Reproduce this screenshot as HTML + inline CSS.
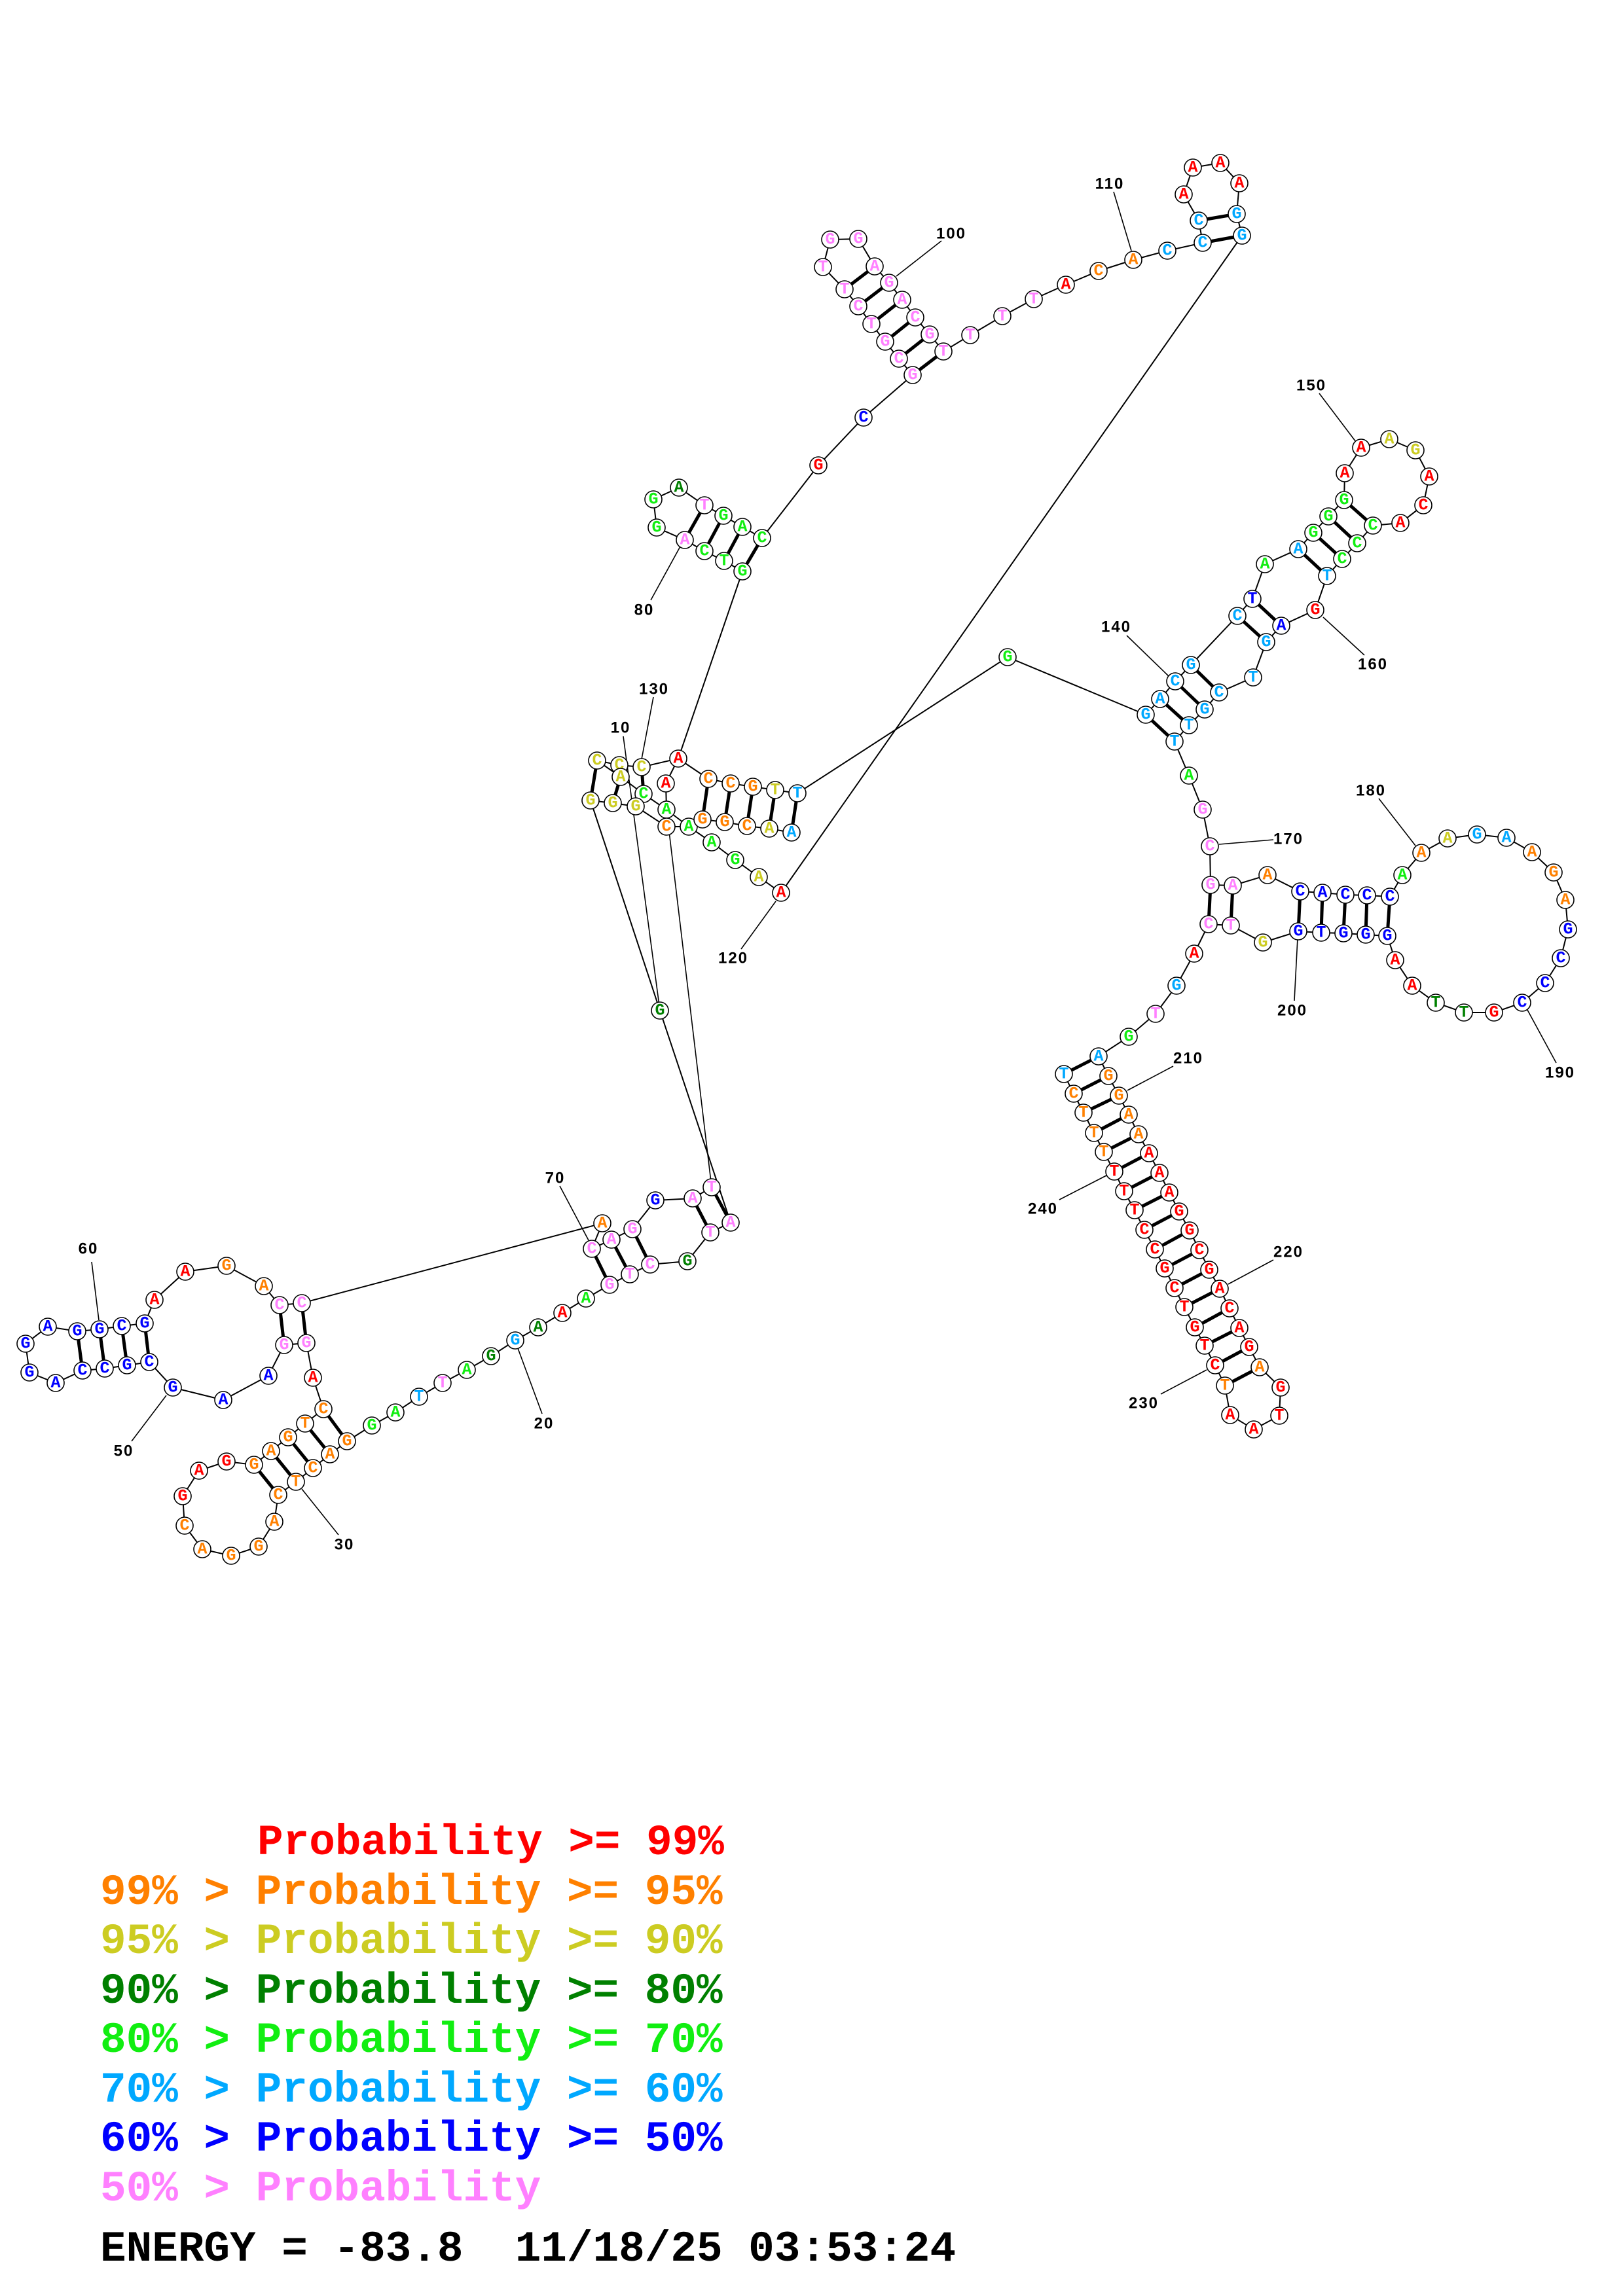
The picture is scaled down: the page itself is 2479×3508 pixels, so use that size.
<!DOCTYPE html>
<html><head><meta charset="utf-8"><style>
html,body{margin:0;padding:0;background:#fff;}
svg{display:block;}
.n circle{fill:#fff;stroke:#000;stroke-width:1.6;}
.n text{font-family:"Liberation Mono",monospace;font-weight:bold;font-size:25px;text-anchor:middle;dominant-baseline:central;}
.lb{font-family:"Liberation Sans",sans-serif;font-weight:bold;font-size:24px;letter-spacing:2px;text-anchor:middle;dominant-baseline:central;fill:#000;}
.lg{font-family:"Liberation Mono",monospace;font-weight:bold;font-size:66px;white-space:pre;}
.r{fill:#ff0000}.o{fill:#ff8000}.y{fill:#cccc22}.d{fill:#008000}.g{fill:#11ee11}.c{fill:#00a8ff}.b{fill:#0000ff}.p{fill:#ff80ff}
.bb{fill:none;stroke:#000;stroke-width:2;}
.pr{stroke:#000;stroke-width:5;}
.ll{stroke:#000;stroke-width:1.6;}
</style></head><body>
<svg width="2479" height="3508" viewBox="0 0 2479 3508" xmlns="http://www.w3.org/2000/svg">
<polyline class="bb" points="1116,1868 1085,1883 1050,1927 993,1932 962,1947 931,1963 895,1984 859,2006 822,2028 787,2048 750,2072 713,2093 676,2113 640,2134 604,2158 568,2178 530,2202 504,2222 478,2243 452,2264 425,2284 419,2325 395,2363 353,2377 309,2367 282,2331 279,2286 304,2247 346,2233 388,2238 414,2217 440,2196 466,2175 494,2153 478,2105 468,2052 434,2055 410,2102 341,2139 264,2120 228,2081 194,2086 160,2091 126,2094 85,2113 45,2097 39,2053 73,2027 118,2034 152,2031 186,2026 221,2022 236,1986 283,1943 346,1934 403,1965 427,1994 461,1991 920,1869 904,1908 934,1894 966,1878 1001,1834 1058,1831 1087,1814"/>
<polyline class="bb" points="1116,1868 1008,1544 902,1223"/>
<line class="ll" x1="952" y1="1125" x2="1008" y2="1544"/>
<line class="ll" x1="1018" y1="1237" x2="1087" y2="1814"/>
<polyline class="bb" points="902,1223 936,1227 971,1232 1018,1263 1052,1263 1087,1287 1123,1314 1159,1340 1193,1364 1897,360"/>
<polyline class="bb" points="1052,1263 1073,1252 1107,1256 1141,1262 1175,1266 1209,1272"/>
<polyline class="bb" points="912,1162 946,1169 980,1172 1036,1159 1082,1190 1116,1197 1150,1202 1184,1207 1218,1212 1539,1004 1750,1092"/>
<polyline class="bb" points="912,1162 948,1187 983,1213 1018,1237 1052,1263"/>
<polyline class="bb" points="1036,1159 1017,1197 1018,1237"/>
<polyline class="bb" points="1036,1159 1134,873 1106,857 1076,842 1046,825 1003,806 998,763 1037,745 1076,772 1105,788 1134,805 1164,822 1250,711 1319,638 1394,573 1373,548 1352,522 1331,495 1311,468 1290,442 1257,408 1268,366 1311,365 1336,407 1358,432 1378,458 1398,485 1420,511 1441,537 1482,512 1531,483 1579,457 1628,435 1678,414 1731,397 1783,383 1837,371 1831,337 1808,297 1822,256 1864,249 1893,280 1889,327 1897,360"/>
<polyline class="bb" points="1750,1092 1772,1068 1795,1041 1819,1016 1890,941 1913,915 1932,862 1983,839 2006,814 2029,789 2053,764 2054,723 2079,684 2122,671 2162,688 2183,728 2174,772 2139,799 2097,803 2073,830 2050,854 2027,880 2009,932 1957,956 1934,981 1914,1035 1862,1058 1840,1084 1816,1108 1794,1133 1816,1185 1837,1237 1848,1293 1849,1352 1883,1353 1936,1337 1986,1362 2020,1364 2055,1367 2088,1368 2123,1370 2142,1337 2171,1303 2211,1281 2256,1275 2301,1280 2340,1302 2373,1333 2391,1375 2395,1420 2384,1464 2360,1502 2325,1532 2282,1547 2236,1547 2193,1532 2157,1506 2131,1467 2119,1430 2086,1428 2052,1426 2018,1425 1983,1423 1929,1440 1880,1414 1846,1412 1824,1457 1797,1506 1765,1549 1724,1584 1678,1614 1693,1644 1709,1674 1724,1703 1739,1733 1755,1762 1771,1792 1786,1822 1801,1851 1817,1880 1832,1910 1847,1940 1863,1969 1878,1999 1893,2029 1908,2058 1924,2089 1956,2120 1954,2163 1915,2184 1879,2162 1871,2117 1856,2086 1840,2056 1825,2028 1809,1997 1794,1968 1779,1938 1764,1909 1748,1879 1733,1849 1717,1820 1702,1790 1686,1760 1671,1731 1655,1700 1640,1671 1625,1641"/>
<g class="pr">
<line x1="118" y1="2034" x2="126" y2="2094"/><line x1="152" y1="2031" x2="160" y2="2091"/><line x1="186" y1="2026" x2="194" y2="2086"/><line x1="221" y1="2022" x2="228" y2="2081"/>
<line x1="427" y1="1994" x2="434" y2="2055"/><line x1="461" y1="1991" x2="468" y2="2052"/>
<line x1="494" y1="2153" x2="530" y2="2202"/><line x1="466" y1="2175" x2="504" y2="2222"/><line x1="440" y1="2196" x2="478" y2="2243"/><line x1="414" y1="2217" x2="452" y2="2264"/><line x1="388" y1="2238" x2="425" y2="2284"/>
<line x1="904" y1="1908" x2="931" y2="1963"/><line x1="934" y1="1894" x2="962" y2="1947"/><line x1="966" y1="1878" x2="993" y2="1932"/><line x1="1058" y1="1831" x2="1085" y2="1883"/><line x1="1087" y1="1814" x2="1116" y2="1868"/>
<line x1="912" y1="1162" x2="902" y2="1223"/><line x1="948" y1="1187" x2="936" y2="1227"/><line x1="980" y1="1172" x2="983" y2="1213"/>
<line x1="1082" y1="1190" x2="1073" y2="1252"/><line x1="1116" y1="1197" x2="1107" y2="1256"/><line x1="1150" y1="1202" x2="1141" y2="1262"/><line x1="1184" y1="1207" x2="1175" y2="1266"/><line x1="1218" y1="1212" x2="1209" y2="1272"/>
<line x1="1076" y1="772" x2="1046" y2="825"/><line x1="1105" y1="788" x2="1076" y2="842"/><line x1="1134" y1="805" x2="1106" y2="857"/><line x1="1164" y1="822" x2="1134" y2="873"/>
<line x1="1290" y1="442" x2="1336" y2="407"/><line x1="1311" y1="468" x2="1358" y2="432"/><line x1="1331" y1="495" x2="1378" y2="458"/><line x1="1352" y1="522" x2="1398" y2="485"/><line x1="1373" y1="548" x2="1420" y2="511"/><line x1="1394" y1="573" x2="1441" y2="537"/>
<line x1="1831" y1="337" x2="1889" y2="327"/><line x1="1837" y1="371" x2="1897" y2="360"/>
<line x1="1750" y1="1092" x2="1794" y2="1133"/><line x1="1772" y1="1068" x2="1816" y2="1108"/><line x1="1795" y1="1041" x2="1840" y2="1084"/><line x1="1819" y1="1016" x2="1862" y2="1058"/>
<line x1="1890" y1="941" x2="1934" y2="981"/><line x1="1913" y1="915" x2="1957" y2="956"/>
<line x1="1983" y1="839" x2="2027" y2="880"/><line x1="2006" y1="814" x2="2050" y2="854"/><line x1="2029" y1="789" x2="2073" y2="830"/><line x1="2053" y1="764" x2="2097" y2="803"/>
<line x1="1849" y1="1352" x2="1846" y2="1412"/><line x1="1883" y1="1353" x2="1880" y2="1414"/>
<line x1="1986" y1="1362" x2="1983" y2="1423"/><line x1="2020" y1="1364" x2="2018" y2="1425"/><line x1="2055" y1="1367" x2="2052" y2="1426"/><line x1="2088" y1="1368" x2="2086" y2="1428"/><line x1="2123" y1="1370" x2="2119" y2="1430"/>
<line x1="1678" y1="1614" x2="1625" y2="1641"/><line x1="1693" y1="1644" x2="1640" y2="1671"/><line x1="1709" y1="1674" x2="1655" y2="1700"/><line x1="1724" y1="1703" x2="1671" y2="1731"/><line x1="1739" y1="1733" x2="1686" y2="1760"/><line x1="1755" y1="1762" x2="1702" y2="1790"/><line x1="1771" y1="1792" x2="1717" y2="1820"/><line x1="1786" y1="1822" x2="1733" y2="1849"/><line x1="1801" y1="1851" x2="1748" y2="1879"/><line x1="1817" y1="1880" x2="1764" y2="1909"/><line x1="1832" y1="1910" x2="1779" y2="1938"/><line x1="1847" y1="1940" x2="1794" y2="1968"/><line x1="1863" y1="1969" x2="1809" y2="1997"/><line x1="1878" y1="1999" x2="1825" y2="2028"/><line x1="1893" y1="2029" x2="1840" y2="2056"/><line x1="1908" y1="2058" x2="1856" y2="2086"/><line x1="1924" y1="2089" x2="1871" y2="2117"/>
</g>
<g class="ll">
<line x1="140" y1="1928" x2="151" y2="2017"/><line x1="201" y1="2202" x2="254" y2="2132"/><line x1="517" y1="2345" x2="461" y2="2275"/><line x1="828" y1="2160" x2="791" y2="2060"/><line x1="855" y1="1812" x2="899" y2="1895"/><line x1="994" y1="917" x2="1039" y2="835"/><line x1="998" y1="1065" x2="980" y2="1160"/><line x1="1132" y1="1450" x2="1185" y2="1377"/><line x1="1438" y1="368" x2="1369" y2="422"/><line x1="1701" y1="293" x2="1728" y2="383"/><line x1="2015" y1="601" x2="2071" y2="675"/><line x1="1721" y1="971" x2="1785" y2="1033"/><line x1="2084" y1="1001" x2="2021" y2="943"/><line x1="1862" y1="1290" x2="1945" y2="1283"/><line x1="2106" y1="1220" x2="2162" y2="1292"/><line x1="2377" y1="1624" x2="2333" y2="1543"/><line x1="1977" y1="1529" x2="1982" y2="1433"/><line x1="1792" y1="1629" x2="1722" y2="1666"/><line x1="1618" y1="1833" x2="1690" y2="1796"/><line x1="1945" y1="1925" x2="1876" y2="1962"/><line x1="1773" y1="2130" x2="1843" y2="2093"/>
</g>
<g>
<text class="lb" x="135" y="1908">60</text><text class="lb" x="189" y="2217">50</text><text class="lb" x="526" y="2360">30</text><text class="lb" x="831" y="2175">20</text><text class="lb" x="848" y="1800">70</text><text class="lb" x="984" y="932">80</text><text class="lb" x="999" y="1053">130</text><text class="lb" x="948" y="1112">10</text><text class="lb" x="1120" y="1464">120</text><text class="lb" x="1453" y="357">100</text><text class="lb" x="1695" y="281">110</text><text class="lb" x="2003" y="589">150</text><text class="lb" x="1705" y="958">140</text><text class="lb" x="2097" y="1015">160</text><text class="lb" x="1968" y="1282">170</text><text class="lb" x="2094" y="1208">180</text><text class="lb" x="2383" y="1639">190</text><text class="lb" x="1974" y="1544">200</text><text class="lb" x="1815" y="1617">210</text><text class="lb" x="1593" y="1847">240</text><text class="lb" x="1968" y="1913">220</text><text class="lb" x="1747" y="2144">230</text>
</g>
<g class="n">
<g transform="translate(39,2053)"><circle r="13"/><text class="b">G</text></g>
<g transform="translate(45,2097)"><circle r="13"/><text class="b">G</text></g>
<g transform="translate(85,2113)"><circle r="13"/><text class="b">A</text></g>
<g transform="translate(73,2027)"><circle r="13"/><text class="b">A</text></g>
<g transform="translate(118,2034)"><circle r="13"/><text class="b">G</text></g>
<g transform="translate(152,2031)"><circle r="13"/><text class="b">G</text></g>
<g transform="translate(186,2026)"><circle r="13"/><text class="b">C</text></g>
<g transform="translate(221,2022)"><circle r="13"/><text class="b">G</text></g>
<g transform="translate(126,2094)"><circle r="13"/><text class="b">C</text></g>
<g transform="translate(160,2091)"><circle r="13"/><text class="b">C</text></g>
<g transform="translate(194,2086)"><circle r="13"/><text class="b">G</text></g>
<g transform="translate(228,2081)"><circle r="13"/><text class="b">C</text></g>
<g transform="translate(264,2120)"><circle r="13"/><text class="b">G</text></g>
<g transform="translate(341,2139)"><circle r="13"/><text class="b">A</text></g>
<g transform="translate(410,2102)"><circle r="13"/><text class="b">A</text></g>
<g transform="translate(434,2055)"><circle r="13"/><text class="p">G</text></g>
<g transform="translate(468,2052)"><circle r="13"/><text class="p">G</text></g>
<g transform="translate(427,1994)"><circle r="13"/><text class="p">C</text></g>
<g transform="translate(461,1991)"><circle r="13"/><text class="p">C</text></g>
<g transform="translate(403,1965)"><circle r="13"/><text class="o">A</text></g>
<g transform="translate(346,1934)"><circle r="13"/><text class="o">G</text></g>
<g transform="translate(283,1943)"><circle r="13"/><text class="r">A</text></g>
<g transform="translate(236,1986)"><circle r="13"/><text class="r">A</text></g>
<g transform="translate(478,2105)"><circle r="13"/><text class="r">A</text></g>
<g transform="translate(494,2153)"><circle r="13"/><text class="o">C</text></g>
<g transform="translate(530,2202)"><circle r="13"/><text class="o">G</text></g>
<g transform="translate(504,2222)"><circle r="13"/><text class="o">A</text></g>
<g transform="translate(478,2243)"><circle r="13"/><text class="o">C</text></g>
<g transform="translate(452,2264)"><circle r="13"/><text class="o">T</text></g>
<g transform="translate(466,2175)"><circle r="13"/><text class="o">T</text></g>
<g transform="translate(440,2196)"><circle r="13"/><text class="o">G</text></g>
<g transform="translate(414,2217)"><circle r="13"/><text class="o">A</text></g>
<g transform="translate(388,2238)"><circle r="13"/><text class="o">G</text></g>
<g transform="translate(425,2284)"><circle r="13"/><text class="o">C</text></g>
<g transform="translate(419,2325)"><circle r="13"/><text class="o">A</text></g>
<g transform="translate(395,2363)"><circle r="13"/><text class="o">G</text></g>
<g transform="translate(353,2377)"><circle r="13"/><text class="o">G</text></g>
<g transform="translate(309,2367)"><circle r="13"/><text class="o">A</text></g>
<g transform="translate(282,2331)"><circle r="13"/><text class="o">C</text></g>
<g transform="translate(279,2286)"><circle r="13"/><text class="r">G</text></g>
<g transform="translate(304,2247)"><circle r="13"/><text class="r">A</text></g>
<g transform="translate(346,2233)"><circle r="13"/><text class="r">G</text></g>
<g transform="translate(568,2178)"><circle r="13"/><text class="g">G</text></g>
<g transform="translate(604,2158)"><circle r="13"/><text class="g">A</text></g>
<g transform="translate(640,2134)"><circle r="13"/><text class="c">T</text></g>
<g transform="translate(676,2113)"><circle r="13"/><text class="p">T</text></g>
<g transform="translate(713,2093)"><circle r="13"/><text class="g">A</text></g>
<g transform="translate(750,2072)"><circle r="13"/><text class="d">G</text></g>
<g transform="translate(787,2048)"><circle r="13"/><text class="c">G</text></g>
<g transform="translate(822,2028)"><circle r="13"/><text class="d">A</text></g>
<g transform="translate(859,2006)"><circle r="13"/><text class="r">A</text></g>
<g transform="translate(895,1984)"><circle r="13"/><text class="g">A</text></g>
<g transform="translate(931,1963)"><circle r="13"/><text class="p">G</text></g>
<g transform="translate(962,1947)"><circle r="13"/><text class="p">T</text></g>
<g transform="translate(993,1932)"><circle r="13"/><text class="p">C</text></g>
<g transform="translate(1050,1927)"><circle r="13"/><text class="d">G</text></g>
<g transform="translate(1085,1883)"><circle r="13"/><text class="p">T</text></g>
<g transform="translate(1116,1868)"><circle r="13"/><text class="p">A</text></g>
<g transform="translate(1087,1814)"><circle r="13"/><text class="p">T</text></g>
<g transform="translate(1058,1831)"><circle r="13"/><text class="p">A</text></g>
<g transform="translate(1001,1834)"><circle r="13"/><text class="b">G</text></g>
<g transform="translate(966,1878)"><circle r="13"/><text class="p">G</text></g>
<g transform="translate(934,1894)"><circle r="13"/><text class="p">A</text></g>
<g transform="translate(904,1908)"><circle r="13"/><text class="p">C</text></g>
<g transform="translate(920,1869)"><circle r="13"/><text class="o">A</text></g>
<g transform="translate(1008,1544)"><circle r="13"/><text class="d">G</text></g>
<g transform="translate(1123,1314)"><circle r="13"/><text class="g">G</text></g>
<g transform="translate(1159,1340)"><circle r="13"/><text class="y">A</text></g>
<g transform="translate(1193,1364)"><circle r="13"/><text class="r">A</text></g>
<g transform="translate(912,1162)"><circle r="13"/><text class="y">C</text></g>
<g transform="translate(946,1169)"><circle r="13"/><text class="y">C</text></g>
<g transform="translate(980,1172)"><circle r="13"/><text class="y">C</text></g>
<g transform="translate(1036,1159)"><circle r="13"/><text class="r">A</text></g>
<g transform="translate(948,1187)"><circle r="13"/><text class="y">A</text></g>
<g transform="translate(902,1223)"><circle r="13"/><text class="y">G</text></g>
<g transform="translate(936,1227)"><circle r="13"/><text class="y">G</text></g>
<g transform="translate(983,1213)"><circle r="13"/><text class="g">C</text></g>
<g transform="translate(971,1232)"><circle r="13"/><text class="y">G</text></g>
<g transform="translate(1017,1197)"><circle r="13"/><text class="r">A</text></g>
<g transform="translate(1018,1237)"><circle r="13"/><text class="g">A</text></g>
<g transform="translate(1018,1263)"><circle r="13"/><text class="o">C</text></g>
<g transform="translate(1052,1263)"><circle r="13"/><text class="g">A</text></g>
<g transform="translate(1087,1287)"><circle r="13"/><text class="g">A</text></g>
<g transform="translate(1082,1190)"><circle r="13"/><text class="o">C</text></g>
<g transform="translate(1116,1197)"><circle r="13"/><text class="o">C</text></g>
<g transform="translate(1150,1202)"><circle r="13"/><text class="o">G</text></g>
<g transform="translate(1184,1207)"><circle r="13"/><text class="y">T</text></g>
<g transform="translate(1218,1212)"><circle r="13"/><text class="c">T</text></g>
<g transform="translate(1073,1252)"><circle r="13"/><text class="o">G</text></g>
<g transform="translate(1107,1256)"><circle r="13"/><text class="o">G</text></g>
<g transform="translate(1141,1262)"><circle r="13"/><text class="o">C</text></g>
<g transform="translate(1175,1266)"><circle r="13"/><text class="y">A</text></g>
<g transform="translate(1209,1272)"><circle r="13"/><text class="c">A</text></g>
<g transform="translate(1037,745)"><circle r="13"/><text class="d">A</text></g>
<g transform="translate(998,763)"><circle r="13"/><text class="g">G</text></g>
<g transform="translate(1003,806)"><circle r="13"/><text class="g">G</text></g>
<g transform="translate(1076,772)"><circle r="13"/><text class="p">T</text></g>
<g transform="translate(1105,788)"><circle r="13"/><text class="g">G</text></g>
<g transform="translate(1134,805)"><circle r="13"/><text class="g">A</text></g>
<g transform="translate(1164,822)"><circle r="13"/><text class="g">C</text></g>
<g transform="translate(1046,825)"><circle r="13"/><text class="p">A</text></g>
<g transform="translate(1076,842)"><circle r="13"/><text class="g">C</text></g>
<g transform="translate(1106,857)"><circle r="13"/><text class="g">T</text></g>
<g transform="translate(1134,873)"><circle r="13"/><text class="g">G</text></g>
<g transform="translate(1250,711)"><circle r="13"/><text class="r">G</text></g>
<g transform="translate(1319,638)"><circle r="13"/><text class="b">C</text></g>
<g transform="translate(1539,1004)"><circle r="13"/><text class="g">G</text></g>
<g transform="translate(1268,366)"><circle r="13"/><text class="p">G</text></g>
<g transform="translate(1311,365)"><circle r="13"/><text class="p">G</text></g>
<g transform="translate(1257,408)"><circle r="13"/><text class="p">T</text></g>
<g transform="translate(1336,407)"><circle r="13"/><text class="p">A</text></g>
<g transform="translate(1290,442)"><circle r="13"/><text class="p">T</text></g>
<g transform="translate(1358,432)"><circle r="13"/><text class="p">G</text></g>
<g transform="translate(1311,468)"><circle r="13"/><text class="p">C</text></g>
<g transform="translate(1378,458)"><circle r="13"/><text class="p">A</text></g>
<g transform="translate(1331,495)"><circle r="13"/><text class="p">T</text></g>
<g transform="translate(1398,485)"><circle r="13"/><text class="p">C</text></g>
<g transform="translate(1352,522)"><circle r="13"/><text class="p">G</text></g>
<g transform="translate(1420,511)"><circle r="13"/><text class="p">G</text></g>
<g transform="translate(1373,548)"><circle r="13"/><text class="p">C</text></g>
<g transform="translate(1441,537)"><circle r="13"/><text class="p">T</text></g>
<g transform="translate(1394,573)"><circle r="13"/><text class="p">G</text></g>
<g transform="translate(1482,512)"><circle r="13"/><text class="p">T</text></g>
<g transform="translate(1531,483)"><circle r="13"/><text class="p">T</text></g>
<g transform="translate(1579,457)"><circle r="13"/><text class="p">T</text></g>
<g transform="translate(1628,435)"><circle r="13"/><text class="r">A</text></g>
<g transform="translate(1678,414)"><circle r="13"/><text class="o">C</text></g>
<g transform="translate(1731,397)"><circle r="13"/><text class="o">A</text></g>
<g transform="translate(1783,383)"><circle r="13"/><text class="c">C</text></g>
<g transform="translate(1837,371)"><circle r="13"/><text class="c">C</text></g>
<g transform="translate(1897,360)"><circle r="13"/><text class="c">G</text></g>
<g transform="translate(1831,337)"><circle r="13"/><text class="c">C</text></g>
<g transform="translate(1889,327)"><circle r="13"/><text class="c">G</text></g>
<g transform="translate(1808,297)"><circle r="13"/><text class="r">A</text></g>
<g transform="translate(1822,256)"><circle r="13"/><text class="r">A</text></g>
<g transform="translate(1864,249)"><circle r="13"/><text class="r">A</text></g>
<g transform="translate(1893,280)"><circle r="13"/><text class="r">A</text></g>
<g transform="translate(1750,1092)"><circle r="13"/><text class="c">G</text></g>
<g transform="translate(1772,1068)"><circle r="13"/><text class="c">A</text></g>
<g transform="translate(1795,1041)"><circle r="13"/><text class="c">C</text></g>
<g transform="translate(1819,1016)"><circle r="13"/><text class="c">G</text></g>
<g transform="translate(1794,1133)"><circle r="13"/><text class="c">T</text></g>
<g transform="translate(1816,1108)"><circle r="13"/><text class="c">T</text></g>
<g transform="translate(1840,1084)"><circle r="13"/><text class="c">G</text></g>
<g transform="translate(1862,1058)"><circle r="13"/><text class="c">C</text></g>
<g transform="translate(1914,1035)"><circle r="13"/><text class="c">T</text></g>
<g transform="translate(1934,981)"><circle r="13"/><text class="c">G</text></g>
<g transform="translate(1957,956)"><circle r="13"/><text class="b">A</text></g>
<g transform="translate(2009,932)"><circle r="13"/><text class="r">G</text></g>
<g transform="translate(1890,941)"><circle r="13"/><text class="c">C</text></g>
<g transform="translate(1913,915)"><circle r="13"/><text class="b">T</text></g>
<g transform="translate(1932,862)"><circle r="13"/><text class="g">A</text></g>
<g transform="translate(1983,839)"><circle r="13"/><text class="c">A</text></g>
<g transform="translate(2027,880)"><circle r="13"/><text class="c">T</text></g>
<g transform="translate(2050,854)"><circle r="13"/><text class="g">C</text></g>
<g transform="translate(2073,830)"><circle r="13"/><text class="g">C</text></g>
<g transform="translate(2097,803)"><circle r="13"/><text class="g">C</text></g>
<g transform="translate(2006,814)"><circle r="13"/><text class="g">G</text></g>
<g transform="translate(2029,789)"><circle r="13"/><text class="g">G</text></g>
<g transform="translate(2053,764)"><circle r="13"/><text class="g">G</text></g>
<g transform="translate(2054,723)"><circle r="13"/><text class="r">A</text></g>
<g transform="translate(2079,684)"><circle r="13"/><text class="r">A</text></g>
<g transform="translate(2122,671)"><circle r="13"/><text class="y">A</text></g>
<g transform="translate(2162,688)"><circle r="13"/><text class="y">G</text></g>
<g transform="translate(2183,728)"><circle r="13"/><text class="r">A</text></g>
<g transform="translate(2174,772)"><circle r="13"/><text class="r">C</text></g>
<g transform="translate(2139,799)"><circle r="13"/><text class="r">A</text></g>
<g transform="translate(1816,1185)"><circle r="13"/><text class="g">A</text></g>
<g transform="translate(1837,1237)"><circle r="13"/><text class="p">G</text></g>
<g transform="translate(1848,1293)"><circle r="13"/><text class="p">C</text></g>
<g transform="translate(1849,1352)"><circle r="13"/><text class="p">G</text></g>
<g transform="translate(1883,1353)"><circle r="13"/><text class="p">A</text></g>
<g transform="translate(1936,1337)"><circle r="13"/><text class="o">A</text></g>
<g transform="translate(1986,1362)"><circle r="13"/><text class="b">C</text></g>
<g transform="translate(2020,1364)"><circle r="13"/><text class="b">A</text></g>
<g transform="translate(2055,1367)"><circle r="13"/><text class="b">C</text></g>
<g transform="translate(2088,1368)"><circle r="13"/><text class="b">C</text></g>
<g transform="translate(2123,1370)"><circle r="13"/><text class="b">C</text></g>
<g transform="translate(2142,1337)"><circle r="13"/><text class="g">A</text></g>
<g transform="translate(2171,1303)"><circle r="13"/><text class="o">A</text></g>
<g transform="translate(2211,1281)"><circle r="13"/><text class="y">A</text></g>
<g transform="translate(2256,1275)"><circle r="13"/><text class="c">G</text></g>
<g transform="translate(2301,1280)"><circle r="13"/><text class="c">A</text></g>
<g transform="translate(2340,1302)"><circle r="13"/><text class="o">A</text></g>
<g transform="translate(2373,1333)"><circle r="13"/><text class="o">G</text></g>
<g transform="translate(2391,1375)"><circle r="13"/><text class="o">A</text></g>
<g transform="translate(2395,1420)"><circle r="13"/><text class="b">G</text></g>
<g transform="translate(2384,1464)"><circle r="13"/><text class="b">C</text></g>
<g transform="translate(2360,1502)"><circle r="13"/><text class="b">C</text></g>
<g transform="translate(2325,1532)"><circle r="13"/><text class="b">C</text></g>
<g transform="translate(2282,1547)"><circle r="13"/><text class="r">G</text></g>
<g transform="translate(2236,1547)"><circle r="13"/><text class="d">T</text></g>
<g transform="translate(2193,1532)"><circle r="13"/><text class="d">T</text></g>
<g transform="translate(2157,1506)"><circle r="13"/><text class="r">A</text></g>
<g transform="translate(2131,1467)"><circle r="13"/><text class="r">A</text></g>
<g transform="translate(2119,1430)"><circle r="13"/><text class="b">G</text></g>
<g transform="translate(2086,1428)"><circle r="13"/><text class="b">G</text></g>
<g transform="translate(2052,1426)"><circle r="13"/><text class="b">G</text></g>
<g transform="translate(2018,1425)"><circle r="13"/><text class="b">T</text></g>
<g transform="translate(1983,1423)"><circle r="13"/><text class="b">G</text></g>
<g transform="translate(1929,1440)"><circle r="13"/><text class="y">G</text></g>
<g transform="translate(1880,1414)"><circle r="13"/><text class="p">T</text></g>
<g transform="translate(1846,1412)"><circle r="13"/><text class="p">C</text></g>
<g transform="translate(1824,1457)"><circle r="13"/><text class="r">A</text></g>
<g transform="translate(1797,1506)"><circle r="13"/><text class="c">G</text></g>
<g transform="translate(1765,1549)"><circle r="13"/><text class="p">T</text></g>
<g transform="translate(1724,1584)"><circle r="13"/><text class="g">G</text></g>
<g transform="translate(1678,1614)"><circle r="13"/><text class="c">A</text></g>
<g transform="translate(1625,1641)"><circle r="13"/><text class="c">T</text></g>
<g transform="translate(1693,1644)"><circle r="13"/><text class="o">G</text></g>
<g transform="translate(1640,1671)"><circle r="13"/><text class="o">C</text></g>
<g transform="translate(1709,1674)"><circle r="13"/><text class="o">G</text></g>
<g transform="translate(1655,1700)"><circle r="13"/><text class="o">T</text></g>
<g transform="translate(1724,1703)"><circle r="13"/><text class="o">A</text></g>
<g transform="translate(1671,1731)"><circle r="13"/><text class="o">T</text></g>
<g transform="translate(1739,1733)"><circle r="13"/><text class="o">A</text></g>
<g transform="translate(1686,1760)"><circle r="13"/><text class="o">T</text></g>
<g transform="translate(1755,1762)"><circle r="13"/><text class="r">A</text></g>
<g transform="translate(1702,1790)"><circle r="13"/><text class="r">T</text></g>
<g transform="translate(1771,1792)"><circle r="13"/><text class="r">A</text></g>
<g transform="translate(1717,1820)"><circle r="13"/><text class="r">T</text></g>
<g transform="translate(1786,1822)"><circle r="13"/><text class="r">A</text></g>
<g transform="translate(1733,1849)"><circle r="13"/><text class="r">T</text></g>
<g transform="translate(1801,1851)"><circle r="13"/><text class="r">G</text></g>
<g transform="translate(1748,1879)"><circle r="13"/><text class="r">C</text></g>
<g transform="translate(1817,1880)"><circle r="13"/><text class="r">G</text></g>
<g transform="translate(1764,1909)"><circle r="13"/><text class="r">C</text></g>
<g transform="translate(1832,1910)"><circle r="13"/><text class="r">C</text></g>
<g transform="translate(1779,1938)"><circle r="13"/><text class="r">G</text></g>
<g transform="translate(1847,1940)"><circle r="13"/><text class="r">G</text></g>
<g transform="translate(1794,1968)"><circle r="13"/><text class="r">C</text></g>
<g transform="translate(1863,1969)"><circle r="13"/><text class="r">A</text></g>
<g transform="translate(1809,1997)"><circle r="13"/><text class="r">T</text></g>
<g transform="translate(1878,1999)"><circle r="13"/><text class="r">C</text></g>
<g transform="translate(1825,2028)"><circle r="13"/><text class="r">G</text></g>
<g transform="translate(1893,2029)"><circle r="13"/><text class="r">A</text></g>
<g transform="translate(1840,2056)"><circle r="13"/><text class="r">T</text></g>
<g transform="translate(1908,2058)"><circle r="13"/><text class="r">G</text></g>
<g transform="translate(1856,2086)"><circle r="13"/><text class="r">C</text></g>
<g transform="translate(1924,2089)"><circle r="13"/><text class="o">A</text></g>
<g transform="translate(1871,2117)"><circle r="13"/><text class="o">T</text></g>
<g transform="translate(1956,2120)"><circle r="13"/><text class="r">G</text></g>
<g transform="translate(1954,2163)"><circle r="13"/><text class="r">T</text></g>
<g transform="translate(1915,2184)"><circle r="13"/><text class="r">A</text></g>
<g transform="translate(1879,2162)"><circle r="13"/><text class="r">A</text></g>
</g>
<text class="lg r" x="393" y="2833">Probability &gt;= 99%</text>
<text class="lg o" x="153" y="2909">99% &gt; Probability &gt;= 95%</text>
<text class="lg y" x="153" y="2984">95% &gt; Probability &gt;= 90%</text>
<text class="lg d" x="153" y="3060">90% &gt; Probability &gt;= 80%</text>
<text class="lg g" x="153" y="3135">80% &gt; Probability &gt;= 70%</text>
<text class="lg c" x="153" y="3211">70% &gt; Probability &gt;= 60%</text>
<text class="lg b" x="153" y="3286">60% &gt; Probability &gt;= 50%</text>
<text class="lg p" x="153" y="3362">50% &gt; Probability</text>
<text class="lg" x="153" y="3454" fill="#000" xml:space="preserve">ENERGY = -83.8  11/18/25 03:53:24</text>
</svg>
</body></html>
